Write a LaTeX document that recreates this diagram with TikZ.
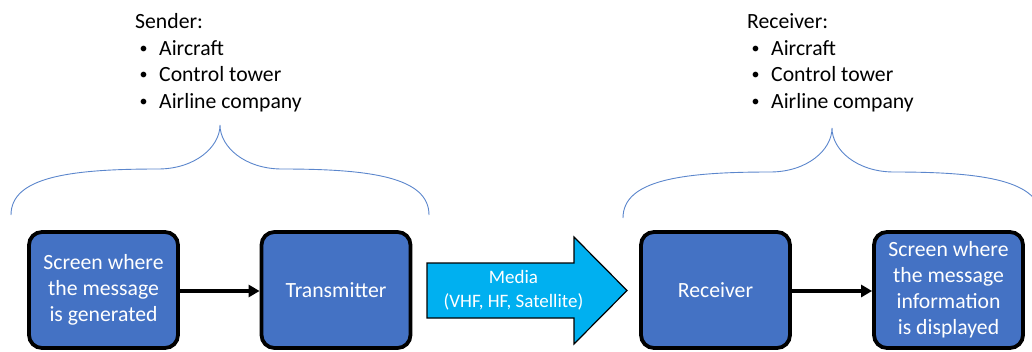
\documentclass[tikz,border=0pt]{standalone}
\usepackage{fontspec}
\setmainfont{Carlito}
\usetikzlibrary{arrows.meta}
\definecolor{boxblue}{HTML}{4472C4}
\definecolor{mediacyan}{HTML}{00B0F0}
\definecolor{bracecol}{HTML}{5B86CC}
\tikzset{
  stagebox/.style={draw=black, line width=3.8pt, fill=boxblue, rounded corners=13pt,
    minimum width=149pt, minimum height=116pt, text=white, align=center,
    font=\fontsize{21.7}{26}\selectfont, inner sep=0pt},
  flow/.style={draw=black, line width=3.2pt, -{Triangle[length=11pt,width=12pt]}},
  brace/.style={draw=bracecol, line width=0.9pt},
  listtext/.style={anchor=base west, inner sep=0pt, font=\fontsize{21.7}{26}\selectfont},
  bullet/.style={anchor=base west, inner sep=0pt, font=\fontsize{16}{16}\selectfont},
  mediatext/.style={text=white, align=center, font=\fontsize{19}{24}\selectfont, inner sep=0pt},
}
\newcommand{\bracepath}{%
  (-209,90) .. controls (-209,52) and (-150,44) .. (-62,44)
  .. controls (-25,44) and (0,22) .. (0,0)
  .. controls (0,22) and (25,44) .. (62,44)
  .. controls (150,44) and (209,52) .. (209,90)}
\begin{document}
\begin{tikzpicture}[x=1pt, y=-1pt]
  \useasboundingbox (0,0) rectangle (1032,351);
  \clip (0,0) rectangle (1032,351);

  % sender list
  \node[listtext] (sendtitle) at (135,28) {Sender:};
  \node[bullet] (sendb1) at (139.5,53) {•};
  \node[listtext] (send1) at (159,55) {Aircraft};
  \node[bullet] (sendb2) at (139.5,79.5) {•};
  \node[listtext] (send2) at (159,81.5) {Control tower};
  \node[bullet] (sendb3) at (139.5,106) {•};
  \node[listtext] (send3) at (159,108) {Airline company};

  % receiver list
  \node[listtext] (rectitle) at (747,28) {Receiver:};
  \node[bullet] (recb1) at (751.5,53) {•};
  \node[listtext] (rec1) at (771,55) {Aircraft};
  \node[bullet] (recb2) at (751.5,79.5) {•};
  \node[listtext] (rec2) at (771,81.5) {Control tower};
  \node[bullet] (recb3) at (751.5,106) {•};
  \node[listtext] (rec3) at (771,108) {Airline company};

  % curly braces grouping each side
  \draw[brace, shift={(220,125)}] \bracepath;
  \draw[brace, shift={(832,128)}] \bracepath;

  % processing stages
  \node[stagebox] (gen) at (103.5,290) {Screen where\\the message\\is generated};
  \node[stagebox] (tx) at (336,290) {Transmitter};
  \node[stagebox] (rx) at (715.5,290) {Receiver};
  \node[stagebox] (disp) at (948.5,290) {Screen where\\the message\\information\\is displayed};

  \draw[flow] (gen.east |- 0,291) -- (tx.west |- 0,291);
  \draw[flow] (rx.east |- 0,291) -- (disp.west |- 0,291);

  % transmission medium
  \draw[draw=black, line width=1.2pt, fill=mediacyan]
    (427,263) -- (574,263) -- (574,237) -- (627,290.5) -- (574,344)
    -- (574,318) -- (427,318) -- cycle;
  \node[mediatext] (media) at (513.5,290) {Media\\(VHF, HF, Satellite)};
\end{tikzpicture}
\end{document}
